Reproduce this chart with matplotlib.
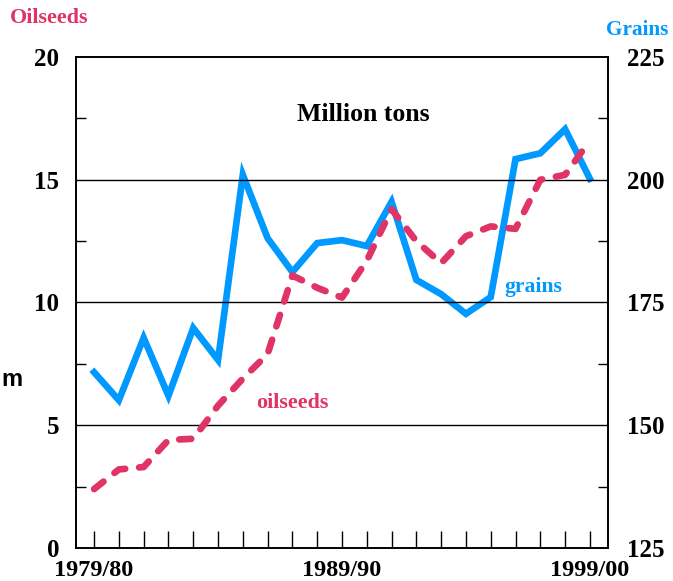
import matplotlib.pyplot as plt
import numpy as np

# crop years 1979/80 .. 1999/00
years = list(range(21))
year_labels = ["1979/80", "1989/90", "1999/00"]

# million tons
oilseeds = [2.4, 3.2, 3.3, 4.4, 4.45, 5.8, 6.9, 7.9, 11.1, 10.6, 10.2,
            11.7, 13.8, 12.5, 11.6, 12.7, 13.1, 13.0, 15.0, 15.2, 16.6]
grains = [160.8, 155.1, 167.8, 156.0, 169.8, 163.3, 201.0, 188.1, 181.2, 187.1, 187.7,
          186.5, 195.5, 179.6, 176.7, 172.7, 176.1, 204.2, 205.4, 210.3, 200.2]

blue = "#0099ff"
pink = "#e03366"

plt.rcParams['font.family'] = ['Liberation Serif', 'DejaVu Serif']
plt.rcParams['font.weight'] = 'bold'

fig = plt.figure(figsize=(6.73, 5.81), dpi=100)
ax = fig.add_axes([0.1129, 0.0568, 0.7905, 0.8451])
ax2 = ax.twinx()

ax.set_xlim(-0.73, 20.73)
ax.set_ylim(0, 20)
ax2.set_ylim(125, 225)

for v in [5, 10, 15]:
    ax.axhline(v, color="black", lw=1.0, zorder=1)

ax2.plot(years, grains, color=blue, lw=4.8, solid_joinstyle="miter", zorder=3)
ax.plot(years, oilseeds, color=pink, lw=4.8, ls=(0, (1.8, 2.1)),
        dash_capstyle="round", zorder=4)
ax.set_zorder(ax2.get_zorder() + 1)
ax.patch.set_visible(False)

ax.set_xticks(years)
ax.set_xticklabels(["" for _ in years])
ax.tick_params(axis="x", direction="in", length=12, width=1, pad=4)
for i, lab in zip([0, 10, 20], year_labels):
    ax.text(i, -0.92, lab, ha="center", va="center", fontsize=17.5, fontweight="bold")

ax.set_yticks([0, 5, 10, 15, 20])
ax.set_yticks([2.5, 7.5, 12.5, 17.5], minor=True)
ax.tick_params(axis="y", which="major", length=0, labelsize=18, pad=12)
ax.tick_params(axis="y", which="minor", direction="in", length=7, width=1)

ax2.set_yticks([125, 150, 175, 200, 225])
ax2.set_yticks([137.5, 162.5, 187.5, 212.5], minor=True)
ax2.tick_params(axis="y", which="major", length=0, labelsize=18, pad=14)
ax2.tick_params(axis="y", which="minor", direction="in", length=7, width=1)

for a in (ax, ax2):
    for s in a.spines.values():
        s.set_linewidth(1.2)
for lab in ax.get_yticklabels() + ax2.get_yticklabels():
    lab.set_fontweight("bold")

ax.text(0.54, 0.882, "Million tons", transform=ax.transAxes, ha="center",
        va="center", fontsize=18.5, fontweight="bold")
ax.text(8.0, 5.9, "oilseeds", color=pink, ha="center", va="center",
        fontsize=15.8, fontweight="bold")
ax.text(17.7, 10.65, "grains", color=blue, ha="center", va="center",
        fontsize=15.6, fontweight="bold")

fig.text(10 / 673, 1 - 18 / 581, "Oilseeds", color=pink, ha="left", va="center",
         fontsize=15.8, fontweight="bold")
fig.text(668 / 673, 1 - 30 / 581, "Grains", color=blue, ha="right", va="center",
         fontsize=15.3, fontweight="bold")
fig.text(1 / 673, 1 - 380 / 581, "m", color="black", ha="left", va="center",
         fontsize=17, fontweight="bold", family=['Liberation Sans', 'DejaVu Sans'])

fig.savefig("out.png", dpi=100)
